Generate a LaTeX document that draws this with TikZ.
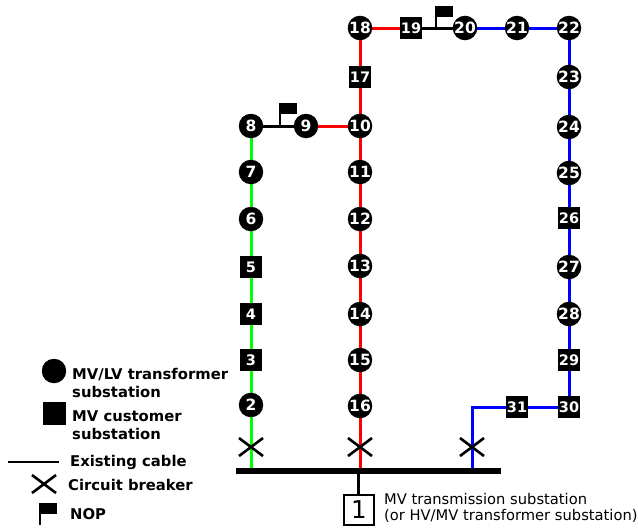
\documentclass[tikz,border=0pt]{standalone}
\usepackage{fontspec}
\setmainfont{DejaVu Sans}
\usetikzlibrary{backgrounds}
\definecolor{cgreen}{RGB}{0,255,0}
\tikzset{
  x=1pt,y=-1pt,
  lv/.style={circle,fill=black,text=white,inner sep=0pt,minimum size=24.5pt,font=\bfseries\fontsize{15.5}{15.5}\selectfont},
  cu/.style={rectangle,fill=black,text=white,inner sep=0pt,minimum size=22.5pt,font=\bfseries\fontsize{14.5}{14.5}\selectfont},
  cable/.style={line width=3pt},
  gl/.style={cable,draw=cgreen},
  rl/.style={cable,draw=red},
  bl/.style={cable,draw=blue},
  kl/.style={cable,draw=black},
  xmark/.style={line width=2.6pt,line cap=butt},
  lgd/.style={anchor=west,inner sep=0pt,align=left,font=\bfseries\fontsize{14.8}{18}\selectfont},
  txt/.style={anchor=west,inner sep=0pt,align=left,font=\fontsize{14.7}{16}\selectfont}
}
\newcommand{\xm}[2]{\draw[xmark] (#1-12,#2-9) -- (#1+12,#2+9) (#1-12,#2+9) -- (#1+12,#2-9);}
\newcommand{\flg}[3]{\draw[line width=2.5pt] (#1,#2) -- (#1,#3); \fill (#1-1.2,#3) rectangle (#1+17,#3+10.5);}
\begin{document}
\begin{tikzpicture}
\useasboundingbox (0,0) rectangle (638,528);
% nodes
\node[lv] (n2) at (251,405) {2};
\node[cu] (n3) at (251,360) {3};
\node[cu] (n4) at (251,314) {4};
\node[cu] (n5) at (251,267) {5};
\node[lv] (n6) at (251,219) {6};
\node[lv] (n7) at (251,172) {7};
\node[lv] (n8) at (251,126) {8};
\node[lv] (n9) at (306,126) {9};
\node[lv] (n10) at (360,126) {10};
\node[lv] (n11) at (360,172) {11};
\node[lv] (n12) at (360,219) {12};
\node[lv] (n13) at (360,266) {13};
\node[lv] (n14) at (360,314) {14};
\node[lv] (n15) at (360,360) {15};
\node[lv] (n16) at (360,406) {16};
\node[cu] (n17) at (360,77) {17};
\node[lv] (n18) at (360,28) {18};
\node[cu] (n19) at (411,28) {19};
\node[lv] (n20) at (465,28) {20};
\node[lv] (n21) at (517,28) {21};
\node[lv] (n22) at (569,28) {22};
\node[lv] (n23) at (569,77) {23};
\node[lv] (n24) at (569,127) {24};
\node[lv] (n25) at (569,173) {25};
\node[cu] (n26) at (569,218) {26};
\node[lv] (n27) at (569,267) {27};
\node[lv] (n28) at (569,314) {28};
\node[cu] (n29) at (569,360) {29};
\node[cu] (n30) at (569,407) {30};
\node[cu] (n31) at (517,407) {31};
\coordinate (busG) at (251,471);
\coordinate (busR) at (360,471);
\coordinate (busB) at (472,471);
\coordinate (busS) at (358,471);
\node[draw=black,line width=2.5pt,minimum size=30pt,inner sep=0pt,font=\fontsize{24.5}{24.5}\selectfont] (n1) at (359,510) {1};
\begin{scope}[on background layer]
\draw[gl] (busG) -- (n2);
\draw[gl] (n2) -- (n3) -- (n4) -- (n5) -- (n6) -- (n7) -- (n8);
\draw[kl] (n8) -- (n9);
\draw[rl] (n9) -- (n10);
\draw[rl] (busR) -- (n16) -- (n15) -- (n14) -- (n13) -- (n12) -- (n11) -- (n10) -- (n17) -- (n18) -- (n19);
\draw[kl] (n19) -- (n20);
\draw[bl] (n20) -- (n21) -- (n22) -- (n23) -- (n24) -- (n25) -- (n26) -- (n27) -- (n28) -- (n29) -- (n30) -- (n31);
\draw[bl] (n31) -| (busB);
\draw[kl] (busS) -- (busS |- n1.north);
\end{scope}
% busbar
\node[fill=black,minimum width=265pt,minimum height=6.5pt,inner sep=0pt] (bus) at (368.5,471) {};
% breakers and flags
\xm{251}{447}
\xm{360}{447}
\xm{472}{447}
\flg{280}{126}{103}
\flg{436}{28}{6}
% substation label
\node[txt] (t1) at (384,507.8) {MV transmission substation\\(or HV/MV transformer substation)};
% legend
\node[circle,fill=black,minimum size=24.5pt,inner sep=0pt] (l1) at (54,371) {};
\node[lgd] (l1t) at (72,382.5) {MV/LV transformer\\substation};
\node[rectangle,fill=black,minimum size=23pt,inner sep=0pt] (l2) at (54,413) {};
\node[lgd] (l2t) at (72,425) {MV customer\\substation};
\coordinate (la) at (8,462);
\coordinate (lb) at (59,462);
\draw[line width=2.5pt] (la) -- (lb);
\node[lgd] (l3t) at (70,462.5) {Existing cable};
\xm{44}{484}
\node[lgd] (l4t) at (68,485) {Circuit breaker};
\flg{40}{525}{503}
\node[lgd] (l5t) at (70,514) {NOP};
\end{tikzpicture}
\end{document}
